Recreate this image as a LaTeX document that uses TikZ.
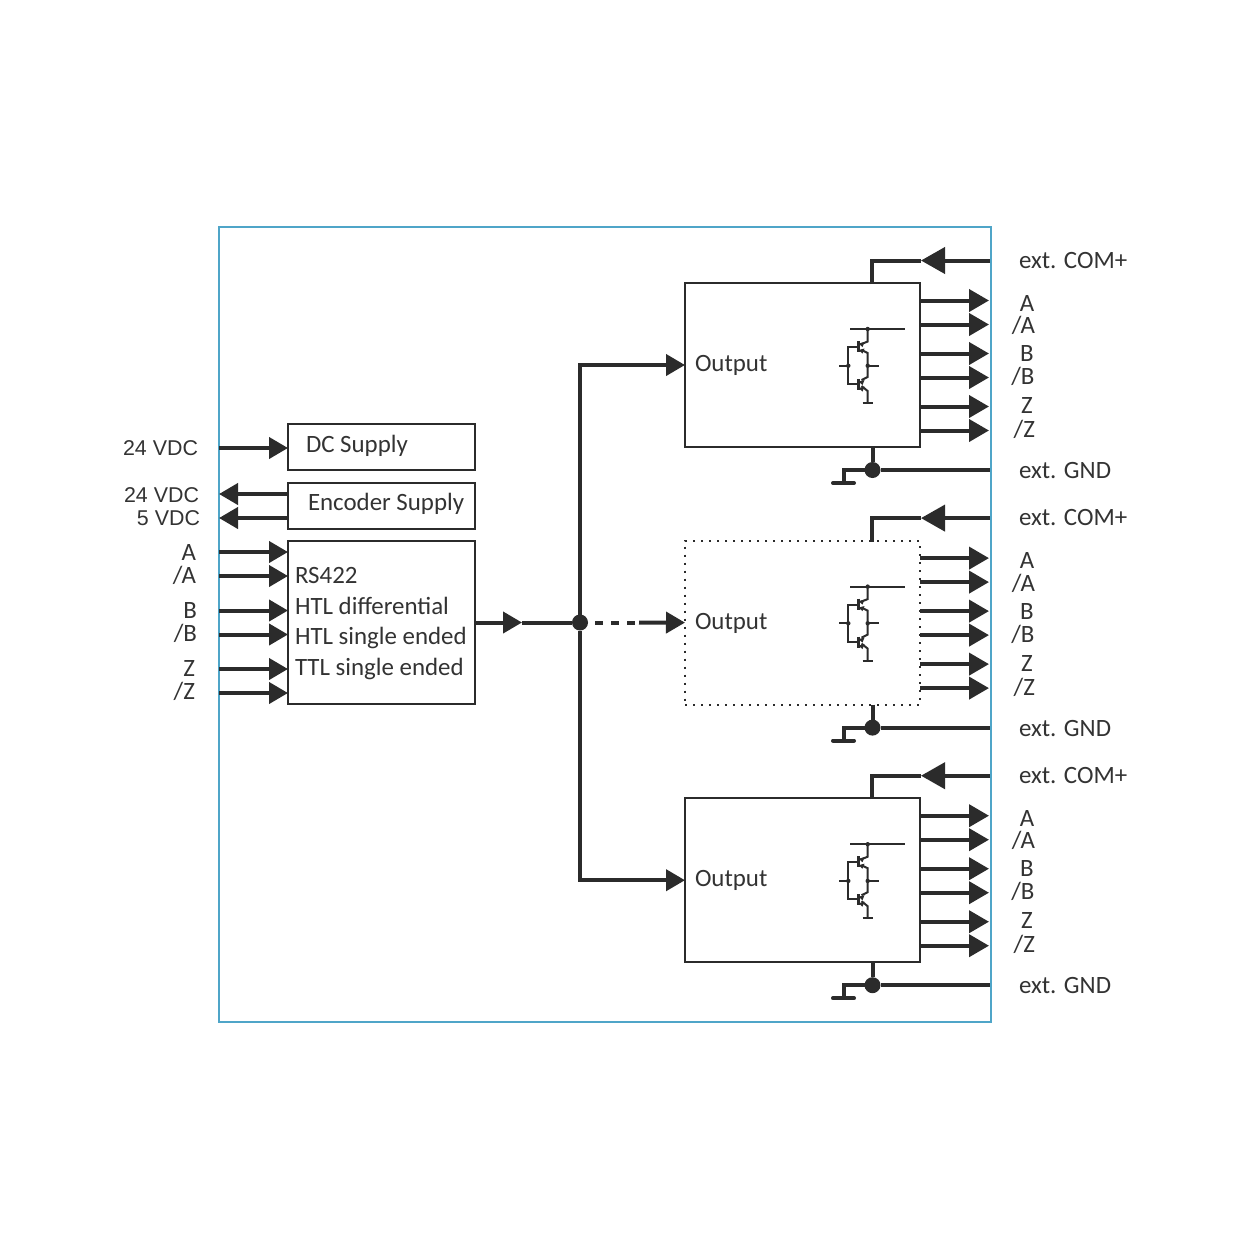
\documentclass[tikz,border=0pt]{standalone}
\usepackage{fontspec}
\setmainfont{Carlito}
\newfontfamily\arialf{Liberation Sans}
\usetikzlibrary{arrows.meta}
\definecolor{ink}{HTML}{2B2B2B}
\definecolor{frameblue}{HTML}{4FA5C8}
\definecolor{txt}{HTML}{333333}
\tikzset{
  box/.style={draw=ink,line width=1pt,fill=white,inner sep=0pt,outer sep=0pt},
  outbox/.style={box,minimum width=117.5pt,minimum height=82pt},
  outdotted/.style={outbox,dash pattern=on 1pt off 3pt},
  wire/.style={draw=ink,line width=2pt},
  bigarrow/.style={wire,-{Triangle[length=10pt,width=11pt]}},
  smallarrow/.style={wire,-{Triangle[length=9.5pt,width=10.5pt]}},
  label/.style={font=\fontsize{12.45pt}{14pt}\selectfont,text=txt,inner sep=0pt,outer sep=0pt,yshift=-1.5pt},
  lw/.style={label,anchor=mid west},
  le/.style={label,anchor=mid east},
  lc/.style={label,anchor=mid},
  vdc/.style={le,font=\arialf\fontsize{10.7pt}{12pt}\selectfont},
  dot/.style={circle,fill=ink,inner sep=0pt,minimum size=8pt,outer sep=0pt},
  fine/.style={draw=ink,line width=1pt},
}
\begin{document}
\begin{tikzpicture}[x=0.5pt,y=-0.5pt]
\useasboundingbox[fill=white] (0,0) rectangle (1250,1250);
\node[draw=frameblue,line width=1pt,inner sep=0pt,minimum width=386pt,minimum height=397.5pt] (frame) at (605,624.5) {};
% left blocks
\node[box,minimum width=93.5pt,minimum height=23pt] (dc) at (381.5,447) {};
\node[box,minimum width=93.5pt,minimum height=23pt] (enc) at (381.5,506) {};
\node[box,minimum width=93.5pt,minimum height=81.5pt] (rs) at (381.5,622.5) {};
\node[lw] (dct) at (306,445) {DC Supply};
\node[lw] (enct) at (308,503) {Encoder Supply};
\node[lw] (rs1) at (295,576) {RS422};
\node[lw] (rs2) at (295,607) {HTL differential};
\node[lw] (rs3) at (295,637) {HTL single ended};
\node[lw] (rs4) at (295,668) {TTL single ended};
% left labels
\node[vdc] (l1) at (198,448) {24 VDC};
\node[vdc] (l2) at (199,495) {24 VDC};
\node[vdc] (l3) at (200,518) {5 VDC};
\node[le] (la) at (196,553) {A};
\node[le] (lna) at (196,576) {/A};
\node[le] (lb) at (197,611) {B};
\node[le] (lnb) at (197,634) {/B};
\node[le] (lz) at (195,669) {Z};
\node[le] (lnz) at (195,692) {/Z};
% left connectors
\coordinate (f1) at (219,448);
\coordinate (f2) at (219,494);
\coordinate (f3) at (219,518);
\draw[smallarrow] (f1) -- (f1 -| dc.west);
\draw[smallarrow] (f2 -| enc.west) -- (f2);
\draw[smallarrow] (f3 -| enc.west) -- (f3);
\foreach \n/\yy in {a/552,b/576,c/610.5,d/634.5,e/669,g/693}{
  \coordinate (in\n) at (219,\yy);
  \draw[smallarrow] (in\n) -- (in\n -| rs.west);
}
% output blocks
\foreach \k/\dy/\bs in {1/0/outbox,2/257.6/outdotted,3/515.2/outbox}{
\begin{scope}[shift={(0,\dy)}]
  \node[\bs] (o\k) at (802.5,365) {};
  \node[lw] (ot\k) at (695,364) {Output};
  % supply
  \coordinate (com\k) at (990,260.5);
  \coordinate (comh\k) at (921,260.5);
  \draw[wire] (872,284) coordinate (comb\k) |- (comh\k);
  \draw[wire,-{Triangle[length=12pt,width=13pt]}] (com\k) -- (comh\k);
  \node[lw] (comt\k) at (1019,260.5) {ext. COM+};
  % ground
  \node[dot] (gd\k) at (872.5,470) {};
  \coordinate (gnd\k) at (990,470);
  \coordinate (gb\k) at (843.5,483);
  \draw[wire] (o\k.south -| gd\k) -- (gd\k);
  \draw[wire] (gd\k) -- (gnd\k);
  \draw[wire] (gd\k) -| (gb\k);
  \draw[wire,line cap=round] (833,483) -- (854,483);
  \node[lw] (gndt\k) at (1019,471) {ext. GND};
  % signals
  \foreach \n/\yy in {a/300.5,b/324.5,c/353.5,d/377.5,e/406.5,g/430.5}{
    \coordinate (t\k\n) at (989,\yy);
    \draw[bigarrow] (t\k\n -| o\k.east) -- (t\k\n);
  }
  \node[lc] (sa\k) at (1027,303.5) {A};
  \node[le] (sna\k) at (1035,326) {/A};
  \node[lc] (sb\k) at (1027,354) {B};
  \node[le] (snb\k) at (1034.5,377) {/B};
  \node[lc] (sz\k) at (1027,406) {Z};
  \node[le] (snz\k) at (1035,430) {/Z};
  % transistor pair
  \draw[fine] (850,329) -- (905,329);
  \draw[fine] (867.7,329) -- (867.7,341.5) -- (861.5,344);
  \draw[fine] (861.5,350) -- (867.7,353) -- (867.7,377) -- (861.5,380);
  \draw[fine] (861.5,386) -- (867.7,391) -- (867.7,403);
  \draw[fine] (862.5,403) -- (872.5,403);
  \draw[fine] (857.5,347) -- (848.3,347) -- (848.3,384) -- (857.5,384);
  \draw[draw=ink,line width=1.8pt] (858.5,341) -- (858.5,352);
  \draw[draw=ink,line width=1.8pt] (858.5,379) -- (858.5,390);
  \draw[fine] (839,365.7) -- (848.3,365.7);
  \draw[fine] (867.7,365.7) -- (878.5,365.7);
  \fill[ink] (867.7,329) circle (1.1pt) (848.3,365.7) circle (1.1pt) (867.7,365.7) circle (1.1pt);
  \fill[ink] (858.5,343.5) -- (864.5,342) -- (862.5,347) -- cycle;
  \fill[ink] (858.5,350) -- (864.5,348.5) -- (862.5,353.5) -- cycle;
  \fill[ink] (858.5,381.5) -- (864.5,380) -- (862.5,385) -- cycle;
  \fill[ink] (858.5,388) -- (864.5,386.5) -- (862.5,391.5) -- cycle;
\end{scope}
}
% distribution
\node[dot] (split) at (580,622.5) {};
\coordinate (mh) at (522,622.5);
\draw[wire] (mh) -- (split);
\draw[smallarrow] (rs.east) -- (mh);
\draw[smallarrow] (split) |- (o1.west);
\draw[smallarrow] (split) |- (o3.west);
\coordinate (dd) at (595,622.5);
\coordinate (de) at (635,622.5);
\coordinate (ds) at (639,622.5);
\draw[wire,dash pattern=on 4pt off 4pt] (dd) -- (de);
\draw[smallarrow] (ds) -- (o2.west);
\end{tikzpicture}
\end{document}
